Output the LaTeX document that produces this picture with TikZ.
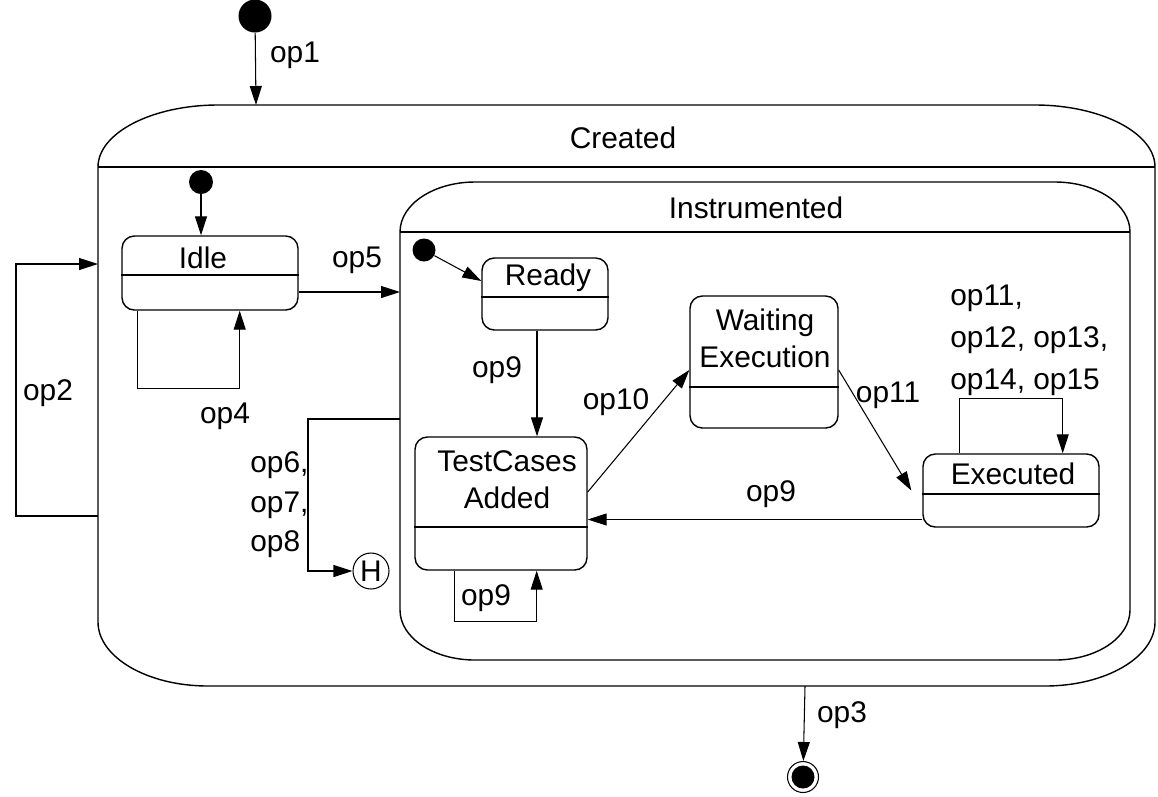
\documentclass[tikz,border=0pt]{standalone}
\usepackage{fontspec}
\setmainfont{Liberation Sans}
\usetikzlibrary{arrows.meta}
\tikzset{
  arr/.style={-{Triangle[length=.38cm,width=.24cm]},line width=.6pt},
  state/.style={draw,rounded corners=7pt,line width=.8pt,inner sep=0},
  init/.style={circle,fill=black,minimum size=#1,inner sep=0},
  final/.style={circle,draw,line width=.6pt,minimum size=.62cm,inner sep=0,
    path picture={\fill (path picture bounding box.center) circle (.23cm);}},
  hist/.style={circle,draw,line width=.6pt,minimum size=.72cm,inner sep=0},
  lbl/.style={inner sep=0},
  every picture/.style={x=.02cm,y=-.02cm,font=\fontsize{17}{21}\selectfont},
}
\begin{document}
\begin{tikzpicture}
  \useasboundingbox (0,0) rectangle (1158,796);
  % composite states
  \draw[line width=.8pt] (98,167) .. controls (98,133) and (152,105) .. (218,105)
    -- (1035,105) .. controls (1101,105) and (1155,133) .. (1155,167)
    -- (1155,622) .. controls (1155,657) and (1106,686) .. (1045,686)
    -- (208,686) .. controls (147,686) and (98,657) .. (98,622) -- cycle;
  \draw[line width=.6pt] (98,167) -- (1155,167);
  \node[lbl] (created) at (623,138) {Created};
  \draw[line width=.8pt] (400,232) .. controls (400,204) and (434,182) .. (475,182)
    -- (1055,182) .. controls (1096,182) and (1130,204) .. (1130,232)
    -- (1130,610) .. controls (1130,638) and (1096,660) .. (1055,660)
    -- (475,660) .. controls (434,660) and (400,638) .. (400,610) -- cycle;
  \draw[line width=.6pt] (400,232) -- (1130,232);
  \node[lbl] (instr) at (756,208) {Instrumented};
  \coordinate (c-top) at (256,105);
  \coordinate (c-w1) at (98,516);
  \coordinate (c-w2) at (98,264);
  \coordinate (c-s) at (805,686);
  \coordinate (i-w1) at (400,292);
  \coordinate (i-w2) at (400,419);

  % pseudo states
  \node[init=.66cm] (i0) at (255,16){};
  \node[init=.48cm] (i1) at (201,182){};
  \node[init=.46cm] (i2) at (424,250){};
  \node[final] (fin) at (803,777){};
  \node[hist] (hist) at (371,571){H};

  % simple states
  \node[state,minimum width=3.52cm,minimum height=1.48cm] (idle) at (210,273){};
  \draw[line width=.6pt] ([yshift=-.04cm]idle.west) -- ([yshift=-.04cm]idle.east);
  \node[lbl] (idle-t) at (203,258) {Idle};
  \node[state,minimum width=2.52cm,minimum height=1.44cm] (ready) at (545,294){};
  \draw[line width=.6pt] ([yshift=-.06cm]ready.west) -- ([yshift=-.06cm]ready.east);
  \node[lbl] (ready-t) at (548,278) {Ready};
  \node[state,minimum width=3.44cm,minimum height=2.66cm] (tca) at (501,503.5){};
  \draw[line width=.6pt] ([yshift=-.47cm]tca.west) -- ([yshift=-.47cm]tca.east);
  \node[lbl,align=center] (tca-t) at (507,480) {TestCases\\Added};
  \node[state,minimum width=2.96cm,minimum height=2.64cm] (we) at (764,362){};
  \draw[line width=.6pt] ([yshift=-.5cm]we.west) -- ([yshift=-.5cm]we.east);
  \node[lbl,align=center] (we-t) at (765,338) {Waiting\\Execution};
  \node[state,minimum width=3.52cm,minimum height=1.46cm] (exe) at (1011,490.5){};
  \draw[line width=.6pt] ([yshift=-.07cm]exe.west) -- ([yshift=-.07cm]exe.east);
  \node[lbl] (exe-t) at (1013,474) {Executed};

  % transitions
  \draw[arr] (i0) -- (c-top);
  \draw[arr] (i1) -- (i1 |- idle.north);
  \draw[arr] ([xshift=.32cm]idle.south west) -- ++(0,78) -| ([xshift=-1.18cm]idle.south east);
  \draw[arr] (idle.east |- i-w1) -- (i-w1);
  \draw[arr] (c-w1) -- ++(-82,0) |- (c-w2);
  \draw[arr] (i2) -- ([yshift=.26cm]ready.west);
  \draw[arr] ([xshift=-.16cm]ready.south) -- ([xshift=-.16cm]ready.south |- tca.north);
  \draw[arr] ([xshift=.8cm]tca.south west) -- ++(0,51) -| ([xshift=-1.02cm]tca.south east);
  \draw[arr] ([yshift=.23cm]tca.east) -- ([yshift=-.16cm]we.west);
  \draw[arr] ([yshift=-.16cm]we.east) -- ([xshift=-.22cm]exe.west);
  \draw[arr] ([yshift=-.58cm]exe.west) coordinate (e9) -- (e9 -| tca.east);
  \draw[arr] ([xshift=.74cm]exe.north west) -- ++(0,-55) -| ([xshift=-.74cm]exe.north east);
  \draw[arr] (i-w2) -- ++(-92,0) |- (hist);
  \draw[arr] (c-s) -- (fin);

  % transition labels
  \node[lbl] (l1) at (295,55) {op1};
  \node[lbl] (l2) at (48,393) {op2};
  \node[lbl] (l3) at (842,715) {op3};
  \node[lbl] (l4) at (225,416) {op4};
  \node[lbl] (l5) at (357,260) {op5};
  \node[lbl,anchor=west,align=left,font=\fontsize{17}{22.4}\selectfont] (l678) at (250,505) {op6,\\op7,\\op8};
  \node[lbl] (l9a) at (497,370) {op9};
  \node[lbl] (l9b) at (486,598) {op9};
  \node[lbl] (l9c) at (771,494) {op9};
  \node[lbl] (l10) at (616,402) {op10};
  \node[lbl] (l11) at (888,395) {op11};
  \node[lbl,anchor=west,align=left,font=\fontsize{17}{23.8}\selectfont] (l1115) at (950,340) {op11,\\op12, op13,\\op14, op15};
\end{tikzpicture}
\end{document}
